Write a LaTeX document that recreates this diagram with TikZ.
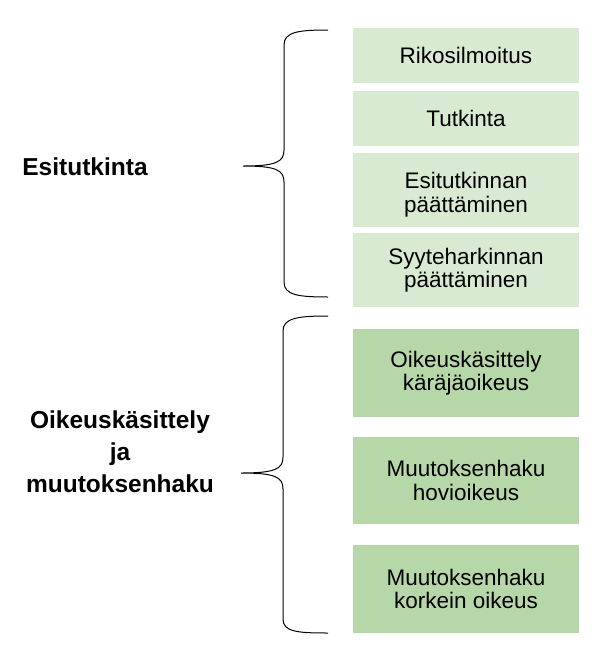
\documentclass[tikz,border=0pt]{standalone}
\usepackage{fontspec}
\setmainfont{Liberation Sans}
\usepackage{tikz}
\usetikzlibrary{positioning, calc}
\definecolor{lightgreen}{HTML}{D9EAD3}
\definecolor{midgreen}{HTML}{B6D7A8}
\tikzset{
box/.style={%
    rectangle,
    minimum width=226pt,
    inner sep=0pt,
    align=center,
    draw=none,
    % Font
    font=\fontsize{22.5}{23.5}\selectfont
},
early/.style={box, fill=lightgreen},
court/.style={box, fill=midgreen},
group/.style={%
    inner sep=0pt, align=center, font=\bfseries\fontsize{24.5}{32}\selectfont
},
brace/.style={draw=black, line width=1pt},
}

\begin{document}
\begin{tikzpicture}[x=1pt, y=-1pt]
				\useasboundingbox[fill=white] (0,0) rectangle (592,654);

				\node[early, minimum height=55pt] at (466,55.5) (ilmoitus) {Rikosilmoitus};
				\node[early, minimum height=55pt] at (466,118.5) (tutkinta) {Tutkinta};
				\node[early, minimum height=74pt] at (466,190) (esipaatos) {\rule{0pt}{26pt}Esitutkinnan\\päättäminen};
				\node[early, minimum height=74pt] at (466,270) (syyte) {Syyteharkinnan\\päättäminen};

				\node[court, minimum height=88pt] at (466,373) (karaja) {Oikeuskäsittely\\käräjäoikeus};
				\node[court, minimum height=87pt] at (466,480.5) (hovi) {Muutoksenhaku\\hovioikeus};
				\node[court, minimum height=88pt] at (466,589) (korkein) {Muutoksenhaku\\korkein oikeus};

				\node[group, anchor=base] at (85,175) (esitutkinta) {Esitutkinta};
				\node[group] at (120,452) (oikeus) {Oikeuskäsittely\\ja\\muutoksenhaku};

			% braces
			\path[brace] (328,30) .. controls (298,30) and (284,32) .. (284,45) -- (284,150)
				.. controls (284,162) and (276,166) .. (243,166)
				.. controls (276,166) and (284,170) .. (284,182) -- (284,282)
				.. controls (284,295) and (298,297) .. (328,297);
			\path[brace] (328,316) .. controls (298,316) and (283,318) .. (283,331) -- (283,457)
				.. controls (283,469) and (275,473) .. (241,473)
				.. controls (275,473) and (283,477) .. (283,489) -- (283,619)
				.. controls (283,632) and (298,633) .. (328,633);

			\end{tikzpicture}
\end{document}
